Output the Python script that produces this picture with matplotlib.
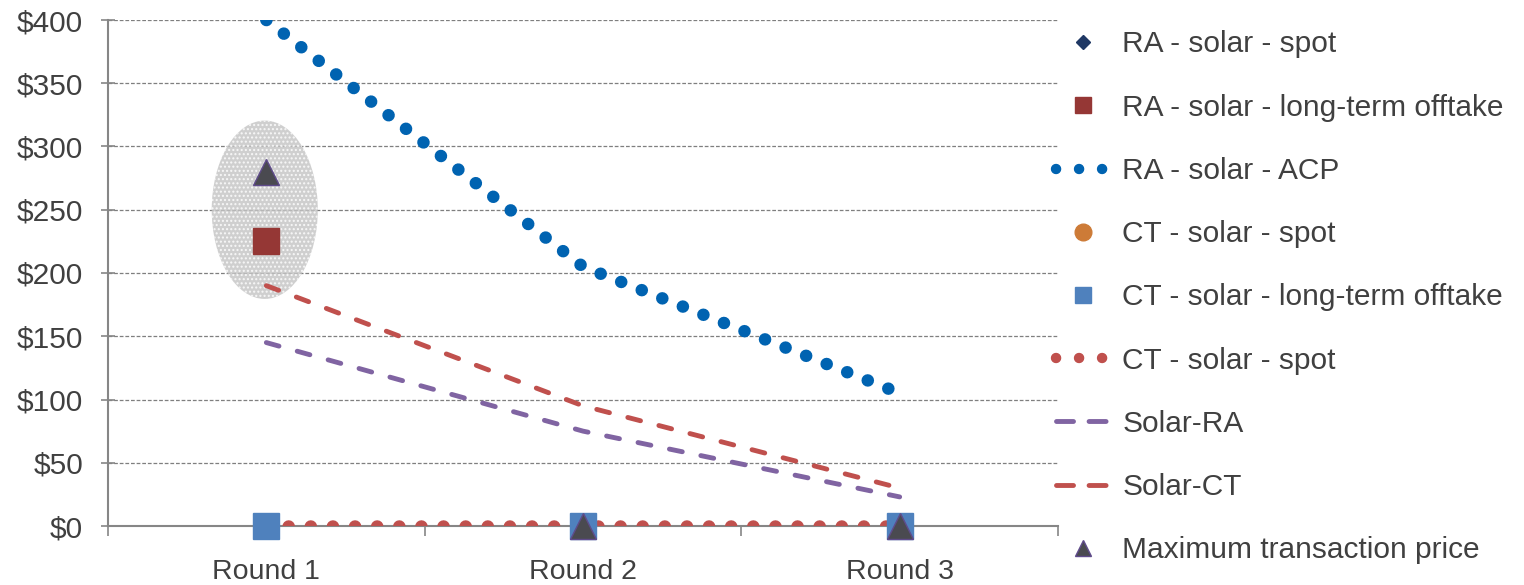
import numpy as np
import matplotlib.pyplot as plt
from matplotlib.patches import Ellipse
from matplotlib.lines import Line2D

plt.rcParams['font.family'] = ['Liberation Sans', 'DejaVu Sans']

# -----------------------------
# Data
rounds = ["Round 1", "Round 2", "Round 3"]
ra_spot = [0, 0, 0]
ra_longterm = [225, np.nan, np.nan]
ra_acp = [400, 205, 105]
ct_spot_pts = [0, 0, 0]
ct_longterm = [0, 0, 0]
ct_spot_line = [0, 0, 0]
solar_ra = [145, 75, 23]
solar_ct = [190, 95, 30]
max_price = [280, 0, 0]

labels = ["RA - solar - spot", "RA - solar - long-term offtake", "RA - solar - ACP",
          "CT - solar - spot", "CT - solar - long-term offtake", "CT - solar - spot",
          "Solar-RA", "Solar-CT", "Maximum transaction price"]

txt = '#404040'
x = np.arange(len(rounds))

fig = plt.figure(figsize=(15.24, 5.85), dpi=100)
ax = fig.add_axes([108/1524, 1 - 526/585, (1058 - 108)/1524, (526 - 20)/585])

# highlight ellipse around round 1
ell = Ellipse((-0.005, 250), 0.335, 141, facecolor='#c4c4c4', edgecolor='white',
              hatch='....', linewidth=0, alpha=0.8, zorder=1.5)
ax.add_patch(ell)

dot = (0, (0.01, 1.76))
dash = (0, (2.7, 3.9))

ax.plot(x, ra_spot, ls='none', marker='D', ms=8, color='#1f3864', zorder=3, clip_on=False)
ax.plot(x, ct_spot_pts, ls='none', marker='o', ms=14, color='#cd7b37', zorder=3, clip_on=False)
ax.plot(x, ra_acp, ls=dot, lw=9, color='#0063b1', dash_capstyle='round', zorder=3)
ax.plot(x, ct_spot_line, ls=dot, lw=9, color='#c0504d', dash_capstyle='round', zorder=3)
ax.plot(x, solar_ra, ls=dash, lw=3.5, color='#8064a2', dash_capstyle='round', zorder=3)
ax.plot(x, solar_ct, ls=dash, lw=3.5, color='#c0504d', dash_capstyle='round', zorder=3)
ax.plot(x, ra_longterm, ls='none', marker='s', ms=18.5, color='#953735', zorder=4, clip_on=False)
ax.plot(x, ct_longterm, ls='none', marker='s', ms=18.5, color='#4f81bd', zorder=4, clip_on=False)
ax.plot(x, max_price, ls='none', marker='^', ms=19, color='#4a4a50',
        markeredgecolor='#5f4b8b', markeredgewidth=1, zorder=5, clip_on=False)

ax.set_xlim(-0.5, 2.5)
ax.set_ylim(0, 400)
ax.set_yticks(np.arange(0, 401, 50))
ax.set_yticklabels([f"${v}" for v in range(0, 401, 50)])
ax.set_xticks(x)
ax.set_xticklabels(rounds)
ax.set_xticks([-0.5, 0.5, 1.5, 2.5], minor=True)
ax.tick_params(axis='x', which='major', length=0, pad=24, labelsize=20.5, labelcolor=txt)
ax.tick_params(axis='x', which='minor', length=7, width=1.2, color='#868686', direction='out')
ax.tick_params(axis='y', length=10, width=1.2, color='#868686', direction='inout', pad=13,
               labelsize=21.5, labelcolor=txt)

ax.grid(axis='y', ls=(0, (3, 1.5)), lw=0.9, color='#7f7f7f', zorder=0)
ax.set_axisbelow(True)
for s in ['top', 'right']:
    ax.spines[s].set_visible(False)
for s in ['left', 'bottom']:
    ax.spines[s].set_color('#868686')
    ax.spines[s].set_linewidth(1.5)
    ax.spines[s].set_zorder(2.5)

# legend
handles = [
    Line2D([], [], ls='none', marker='D', ms=7, color='#1f3864'),
    Line2D([], [], ls='none', marker='s', ms=12, color='#953735'),
    Line2D([], [], ls=(0, (0.01, 2.2)), lw=7.5, color='#0063b1', dash_capstyle='round'),
    Line2D([], [], ls='none', marker='o', ms=12, color='#cd7b37'),
    Line2D([], [], ls='none', marker='s', ms=12, color='#4f81bd'),
    Line2D([], [], ls=(0, (0.01, 2.2)), lw=7.5, color='#c0504d', dash_capstyle='round'),
    Line2D([], [], ls=(0, (3.5, 3.2)), lw=3.5, color='#8064a2', dash_capstyle='round'),
    Line2D([], [], ls=(0, (3.5, 3.2)), lw=3.5, color='#c0504d', dash_capstyle='round'),
    Line2D([], [], ls='none', marker='^', ms=12, color='#4a4a50', markeredgecolor='#5f4b8b'),
]
leg = fig.legend(handles, labels, loc='upper left', bbox_to_anchor=(1056/1524, 1 - 30.5/585),
                 frameon=False, fontsize=21.5, handlelength=1.78, handletextpad=0.44,
                 labelspacing=1.18, borderpad=0, borderaxespad=0, labelcolor=txt)

fig.savefig("out.png", dpi=100)
